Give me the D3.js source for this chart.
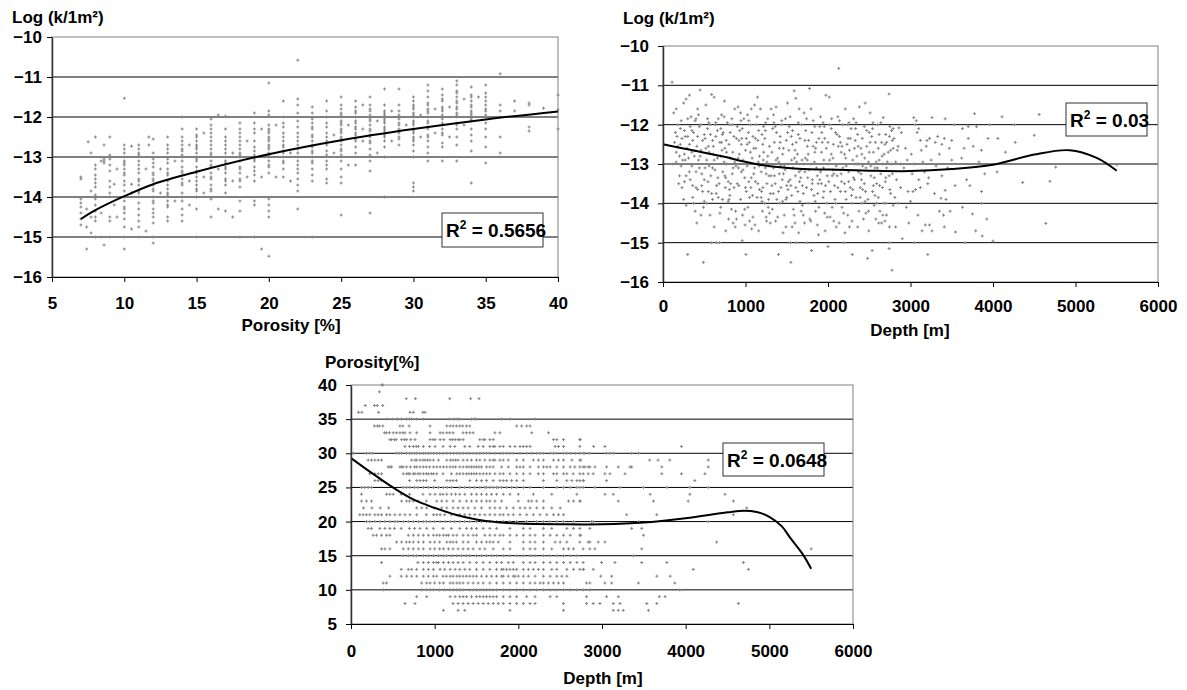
<!DOCTYPE html>
<html>
<head>
<meta charset="utf-8">
<script src="https://cdn.jsdelivr.net/npm/d3@7"></script>
<style>
  body { margin: 0; background: #fff; }
  svg { font-family: "Liberation Sans", Arial, sans-serif; font-weight: bold; }
</style>
</head>
<body>
<div id="chart"></div>
<script>
// ---- Panel 1: Log(k) against porosity, readings grouped by porosity value ----
var permPorosityCols = [
  [7, [-13.5,-13.55,-14.05,-14.15,-14.25,-14.4,-14.55,-14.7]],
  [7.4, [-14.75,-15.3,-14.3]],
  [7.5, [-12.62]],
  [7.7, [-12.9,-13.85,-14.9,-14.5]],
  [8, [-12.5,-13.2,-13.3,-13.45,-13.55,-13.65,-13.75,-13.95,-14.05,-14.2,-14.35,-14.5,-14.6,-15.0]],
  [8.4, [-15.0,-14.4,-13.1]],
  [8.6, [-12.7,-13.05,-13.1,-13.15,-15.2]],
  [9, [-12.5,-12.95,-13.05,-13.2,-13.35,-13.6,-13.75,-13.9,-14.0,-14.5,-14.6,-15.0]],
  [9.3, [-13.68,-14.2]],
  [9.5, [-14.5,-13.3]],
  [10, [-11.53,-12.7,-12.8,-12.9,-13.0,-13.1,-13.15,-13.2,-13.3,-13.4,-13.45,-13.6,-13.7,-13.85,-14.0,-14.1,-14.25,-14.3,-14.4,-14.55,-14.75,-15.0,-15.3]],
  [10.5, [-12.73,-13.68,-14.8,-13.9]],
  [11, [-12.7,-12.8,-12.9,-12.95,-13.1,-13.2,-13.3,-13.4,-13.55,-13.6,-13.7,-13.85,-13.9,-14.0,-14.15,-14.3,-14.45,-14.6,-14.75,-15.0]],
  [11.5, [-14.85,-13.3]],
  [11.7, [-12.5,-12.7]],
  [12, [-12.55,-12.9,-13.05,-13.15,-13.25,-13.4,-13.45,-13.55,-13.6,-13.7,-13.8,-13.85,-14.0,-14.1,-14.15,-14.3,-14.4,-14.5,-14.65,-15.0,-15.15]],
  [12.5, [-13.3,-13.9]],
  [13, [-12.5,-12.7,-12.8,-12.9,-13.05,-13.15,-13.3,-13.4,-13.45,-13.6,-13.7,-13.8,-13.9,-13.95,-14.1,-14.2,-14.25,-14.5,-14.6]],
  [13.5, [-13.1,-14.1]],
  [14, [-12.0,-12.3,-12.5,-12.6,-12.7,-12.8,-12.85,-12.95,-13.0,-13.1,-13.25,-13.35,-13.4,-13.55,-13.65,-13.7,-13.9,-14.0,-14.1,-14.3,-14.45,-14.6]],
  [14.5, [-12.7,-13.6,-14.2]],
  [15, [-12.3,-12.45,-12.5,-12.6,-12.7,-12.75,-12.8,-12.9,-13.0,-13.05,-13.1,-13.25,-13.35,-13.4,-13.5,-13.6,-13.7,-13.8,-13.85,-14.0,-14.3,-15.0]],
  [15.5, [-12.4,-13.5,-13.9]],
  [16, [-12.05,-12.2,-12.3,-12.4,-12.5,-12.6,-12.7,-12.8,-12.9,-12.95,-13.1,-13.2,-13.25,-13.4,-13.5,-13.55,-13.7,-13.8,-13.85,-14.05,-14.5]],
  [16.5, [-11.95,-13.3,-14.3]],
  [17, [-11.98,-12.3,-12.5,-12.6,-12.7,-12.8,-12.9,-13.0,-13.1,-13.15,-13.25,-13.3,-13.4,-13.55,-13.6,-13.7,-13.9,-14.35]],
  [17.5, [-12.9,-13.6,-14.5]],
  [18, [-12.15,-12.3,-12.4,-12.5,-12.6,-12.7,-12.8,-12.9,-12.95,-13.0,-13.1,-13.25,-13.3,-13.4,-13.55,-13.6,-13.75,-14.1,-14.35,-15.0]],
  [18.5, [-12.6,-13.5]],
  [19, [-11.9,-12.15,-12.3,-12.4,-12.6,-12.75,-12.85,-12.95,-13.05,-13.1,-13.25,-13.35,-13.45,-13.6,-14.1,-14.2,-15.0]],
  [19.5, [-12.3,-13.5,-15.3]],
  [20, [-11.15,-11.85,-11.95,-12.2,-12.3,-12.35,-12.4,-12.5,-12.55,-12.6,-12.7,-12.75,-12.8,-12.9,-12.95,-13.0,-13.1,-13.2,-13.25,-13.4,-14.05,-14.2,-14.35,-14.5,-15.48]],
  [20.5, [-12.2,-13.5]],
  [21, [-11.6,-12.0,-12.15,-12.25,-12.4,-12.5,-12.6,-12.7,-12.75,-12.85,-12.9,-13.0,-13.1,-13.15,-13.3,-13.5]],
  [21.5, [-12.9,-13.6]],
  [22, [-10.58,-11.55,-11.7,-11.9,-12.1,-12.25,-12.4,-12.5,-12.6,-12.7,-12.8,-12.9,-13.0,-13.1,-13.2,-13.3,-13.4,-13.55,-13.7,-13.85,-14.3]],
  [23, [-11.75,-11.9,-12.05,-12.15,-12.25,-12.3,-12.45,-12.5,-12.6,-12.7,-12.75,-12.85,-12.9,-13.0,-13.1,-13.15,-13.3,-13.45,-13.6,-15.0]],
  [24, [-11.6,-11.85,-12.0,-12.15,-12.25,-12.4,-12.5,-12.6,-12.7,-12.85,-12.95,-13.1,-13.2,-13.3,-13.55,-13.65]],
  [24.5, [-12.45,-12.9]],
  [25, [-11.5,-11.7,-11.8,-11.9,-11.95,-12.0,-12.1,-12.15,-12.2,-12.3,-12.35,-12.4,-12.5,-12.55,-12.6,-12.7,-12.8,-12.85,-12.95,-13.1,-13.3,-13.5,-13.65,-14.45]],
  [25.5, [-12.2,-13.2]],
  [26, [-11.6,-11.75,-11.85,-11.9,-12.0,-12.1,-12.15,-12.25,-12.3,-12.4,-12.45,-12.55,-12.6,-12.75,-12.9,-13.2]],
  [26.5, [-11.7,-12.3,-12.6]],
  [27, [-11.5,-11.7,-11.8,-11.85,-11.95,-12.05,-12.1,-12.2,-12.3,-12.35,-12.45,-12.5,-12.6,-12.65,-12.8,-12.95,-13.1,-13.35,-14.4]],
  [27.5, [-12.1,-12.9]],
  [28, [-11.3,-11.7,-11.85,-11.9,-11.95,-12.05,-12.1,-12.15,-12.25,-12.3,-12.35,-12.45,-12.5,-12.6,-12.75,-13.0,-14.0]],
  [28.5, [-11.85,-12.6]],
  [29, [-11.3,-11.7,-11.85,-11.95,-12.0,-12.05,-12.15,-12.2,-12.3,-12.35,-12.4,-12.5,-12.55,-12.7]],
  [29.5, [-12.2]],
  [30, [-11.5,-11.6,-11.7,-11.75,-11.8,-11.9,-11.95,-12.0,-12.1,-12.15,-12.2,-12.3,-12.35,-12.4,-12.5,-12.55,-12.6,-12.7,-12.85,-13.0,-13.65,-13.75,-13.85]],
  [30.5, [-11.95,-12.5]],
  [31, [-11.2,-11.35,-11.5,-11.65,-11.7,-11.8,-11.85,-11.9,-12.0,-12.1,-12.15,-12.25,-12.3,-12.45,-12.5,-12.6,-12.75,-12.9,-13.1]],
  [31.5, [-11.8,-12.4]],
  [32, [-11.3,-11.45,-11.55,-11.6,-11.75,-11.8,-11.85,-11.95,-12.0,-12.05,-12.15,-12.2,-12.3,-12.4,-12.45,-12.65,-12.75,-13.1]],
  [32.5, [-11.75,-12.5]],
  [33, [-11.1,-11.2,-11.35,-11.4,-11.5,-11.6,-11.65,-11.75,-11.8,-11.9,-11.95,-12.0,-12.15,-12.2,-12.3,-12.5,-12.7,-13.1]],
  [33.5, [-11.55,-12.2]],
  [34, [-11.25,-11.45,-11.5,-11.6,-11.7,-11.75,-11.85,-11.9,-11.95,-12.05,-12.1,-12.3,-12.45,-12.6,-12.85,-13.65]],
  [34.5, [-11.5]],
  [35, [-11.2,-11.4,-11.5,-11.6,-11.7,-11.8,-11.85,-11.95,-12.0,-12.15,-12.3,-12.5,-12.75,-13.15]],
  [36, [-10.92,-11.7,-11.85,-12.0,-12.5,-12.9]],
  [37, [-11.6,-11.85]],
  [38, [-11.65,-11.7,-12.25,-12.35]],
  [39, [-11.78]],
  [40, [-11.45,-11.82,-12.3]]
];
var permPorosityTrend = [[7,-14.55],[8,-14.33],[10,-13.98],[12,-13.68],[15,-13.37],[20,-12.93],[25,-12.58],[30,-12.3],[35,-12.06],[40,-11.86]];
var permPorosityR2 = '0.5656';

// ---- Panel 2: Log(k) against depth, [depth m, log k] ----
var permDepthPoints = [
  [110,-10.92],[130,-11.7],[150,-12.2],[160,-11.6],[180,-12.55],[200,-12.8],[140,-12.45],[120,-13.0],[190,-13.5],[230,-13.6],[250,-11.45],[260,-12.75],[270,-12.3],[280,-11.35],[300,-11.85],[290,-12.6],[240,-12.9],[220,-13.05],[300,-15.3],[210,-12.1],[160,-12.95],[280,-13.3],[260,-13.45],[170,-12.3],
  [320,-11.25],[340,-11.8],[360,-12.4],[380,-12.8],[400,-13.2],[420,-11.6],[440,-12.05],[460,-12.65],[480,-13.7],[500,-12.25],[330,-13.4],[350,-12.7],[370,-14.0],[390,-11.9],[410,-14.5],[430,-12.9],[450,-11.12],[470,-13.55],[490,-15.5],[320,-12.5],[360,-13.85],[400,-11.85],[440,-13.1],[480,-12.4],[350,-12.15],[420,-13.65],[460,-14.3],[500,-13.95],
  [520,-11.5],[540,-12.1],[560,-12.7],[580,-13.3],[600,-13.9],[620,-11.3],[640,-12.3],[660,-12.85],[680,-13.5],[700,-14.1],[530,-12.9],[550,-13.7],[570,-14.3],[590,-15.0],[610,-12.55],[630,-13.15],[650,-15.0],[670,-11.85],[690,-12.45],[510,-13.1],[555,-11.95],[600,-12.4],[645,-13.75],[685,-15.0],[530,-14.0],[575,-12.25],[620,-14.6],[665,-13.35],[700,-12.1],[545,-13.45],[590,-11.23],[635,-12.0],
  [710,-11.75],[730,-12.2],[750,-12.6],[770,-13.0],[790,-13.45],[810,-13.8],[830,-14.15],[850,-14.5],[870,-11.6],[890,-12.35],[720,-13.9],[740,-12.95],[760,-14.7],[780,-11.95],[800,-12.5],[820,-12.85],[840,-13.25],[860,-13.6],[880,-14.2],[900,-12.05],[725,-13.2],[765,-12.4],[805,-13.65],[845,-12.7],[885,-13.05],[715,-12.65],[755,-13.6],[795,-14.4],[835,-11.85],[875,-14.6],[745,-11.4],[815,-12.2],
  [910,-11.55],[930,-12.15],[950,-12.5],[970,-12.9],[990,-13.35],[1010,-13.7],[1030,-14.1],[1050,-14.45],[1070,-11.6],[1090,-12.3],[920,-13.55],[940,-13.9],[960,-14.95],[980,-11.85],[1000,-12.65],[1020,-13.05],[1040,-13.45],[1060,-12.0],[1080,-12.85],[1100,-13.25],[925,-12.75],[965,-14.3],[1005,-15.3],[1045,-12.45],[1085,-13.8],[915,-13.1],[955,-12.35],[995,-14.55],[1035,-12.2],[1075,-14.65],[945,-11.9],[1025,-11.75],[1065,-13.6],
  [1110,-11.5],[1130,-12.0],[1150,-12.4],[1170,-12.8],[1190,-13.2],[1210,-13.6],[1230,-14.0],[1250,-14.35],[1270,-11.85],[1290,-12.55],[1120,-13.45],[1140,-13.85],[1160,-14.7],[1180,-11.6],[1200,-12.25],[1220,-12.7],[1240,-13.1],[1260,-13.5],[1280,-13.9],[1300,-14.5],[1125,-12.6],[1165,-13.05],[1205,-14.2],[1245,-11.95],[1285,-13.3],[1115,-14.55],[1155,-12.95],[1195,-13.7],[1235,-12.35],[1275,-14.1],[1145,-11.3],[1215,-12.9],[1255,-14.45],
  [1310,-11.6],[1330,-12.1],[1350,-12.45],[1370,-11.55],[1390,-12.85],[1410,-13.25],[1430,-13.6],[1450,-13.95],[1470,-14.3],[1490,-14.6],[1320,-12.7],[1340,-13.1],[1360,-13.5],[1380,-13.9],[1400,-15.3],[1420,-12.3],[1440,-12.0],[1460,-12.6],[1480,-13.15],[1500,-13.55],[1325,-14.15],[1365,-14.45],[1405,-12.95],[1445,-13.4],[1485,-11.85],[1335,-13.75],[1375,-12.2],[1415,-14.0],[1455,-14.75],[1495,-12.4],[1345,-11.95],[1425,-13.05],
  [1510,-11.45],[1530,-12.05],[1550,-15.5],[1570,-12.5],[1590,-11.14],[1610,-11.33],[1630,-12.75],[1650,-11.6],[1670,-13.15],[1690,-13.55],[1520,-13.0],[1540,-13.4],[1560,-13.8],[1580,-14.15],[1600,-14.5],[1620,-15.0],[1640,-12.25],[1660,-13.95],[1680,-12.0],[1700,-14.3],[1525,-12.65],[1565,-14.6],[1605,-13.3],[1645,-14.75],[1685,-12.9],[1515,-13.65],[1555,-12.3],[1595,-12.85],[1635,-13.7],[1675,-14.2],[1545,-15.0],[1615,-12.45],[1655,-13.45],[1575,-13.1],
  [1710,-11.7],[1730,-12.15],[1750,-12.55],[1775,-11.08],[1790,-13.0],[1810,-13.4],[1830,-13.8],[1850,-14.2],[1870,-14.55],[1890,-12.35],[1720,-13.2],[1740,-13.6],[1760,-14.0],[1780,-14.4],[1800,-15.2],[1820,-11.9],[1840,-12.7],[1860,-13.1],[1880,-13.5],[1900,-12.05],[1725,-12.85],[1765,-12.4],[1805,-12.2],[1845,-13.95],[1885,-14.8],[1715,-14.5],[1755,-13.35],[1795,-11.6],[1835,-12.95],[1875,-13.75],[1745,-15.0],
  [1910,-11.8],[1930,-12.45],[1950,-12.9],[1975,-11.25],[1990,-13.3],[2015,-11.3],[2030,-13.7],[2050,-14.1],[2070,-14.45],[2090,-12.2],[1920,-13.5],[1940,-13.85],[1960,-14.25],[1980,-12.6],[2000,-15.1],[2020,-12.0],[2040,-12.75],[2060,-13.15],[2080,-13.55],[2100,-14.6],[1925,-12.2],[1965,-14.7],[2005,-13.0],[2045,-11.85],[2085,-13.9],[1945,-13.1],[1985,-14.0],[2025,-14.35],[2065,-12.5],[1955,-12.05],
  [2130,-10.57],[2120,-11.8],[2140,-12.3],[2160,-12.7],[2180,-13.1],[2200,-13.5],[2220,-13.9],[2240,-14.3],[2260,-14.6],[2280,-12.1],[2300,-12.9],[2110,-13.3],[2150,-13.7],[2170,-14.1],[2190,-15.0],[2210,-11.6],[2230,-12.5],[2250,-13.2],[2270,-13.6],[2290,-14.0],[2135,-14.5],[2175,-12.0],[2215,-12.85],[2255,-11.95],[2295,-15.3],[2125,-12.55],[2165,-13.45],[2205,-14.75],[2245,-12.35],[2285,-13.8],
  [2310,-11.85],[2330,-12.4],[2350,-12.8],[2370,-13.2],[2390,-13.6],[2410,-14.0],[2430,-14.4],[2450,-11.45],[2470,-12.15],[2490,-12.95],[2320,-13.4],[2340,-13.85],[2360,-14.6],[2380,-11.55],[2400,-12.6],[2420,-13.05],[2440,-13.5],[2460,-14.25],[2480,-15.4],[2500,-12.2],[2335,-12.1],[2375,-14.2],[2415,-12.35],[2455,-13.7],[2495,-14.7],[2325,-13.0],[2365,-12.55],[2405,-13.4],[2445,-12.85],[2485,-13.9],
  [2510,-11.7],[2530,-12.3],[2550,-12.7],[2570,-13.1],[2590,-13.5],[2610,-13.85],[2630,-14.2],[2650,-14.5],[2670,-11.82],[2690,-12.5],[2520,-13.3],[2540,-13.7],[2560,-14.05],[2580,-14.4],[2600,-12.0],[2620,-12.9],[2640,-13.25],[2660,-13.6],[2680,-14.0],[2700,-12.25],[2535,-15.2],[2575,-12.45],[2615,-14.5],[2655,-12.8],[2695,-13.45],[2545,-11.95],[2585,-12.95],[2625,-13.55],[2665,-14.3],
  [2740,-11.22],[2750,-12.05],[2770,-12.15],[2790,-12.1],[2860,-12.08],[2890,-12.2],[2745,-12.3],[2780,-12.4],[2800,-12.35],[2850,-12.55],[2710,-12.45],[2730,-12.7],[2760,-12.65],[2790,-12.6],[2840,-12.65],[2720,-12.95],[2770,-13.0],[2820,-12.95],[2880,-13.0],[2710,-13.1],[2740,-13.3],[2780,-13.25],[2830,-13.4],[2750,-13.65],[2760,-13.75],[2810,-13.85],[2850,-14.0],[2790,-14.05],[2700,-14.0],[2710,-14.3],[2745,-14.6],[2820,-14.6],[2740,-15.0],[2740,-15.15],[2775,-15.7],[2900,-14.9],[2880,-13.6],
  [2980,-14.5],[3040,-11.82],[3070,-11.9],[3060,-12.0],[3100,-12.1],[3080,-12.2],[3120,-12.4],[3200,-12.4],[3130,-12.65],[3190,-12.55],[2940,-12.6],[3010,-12.75],[2960,-12.9],[3050,-13.0],[3150,-12.95],[2920,-13.1],[3020,-13.25],[3100,-13.4],[3120,-13.6],[3210,-13.5],[2970,-13.7],[3030,-13.7],[3060,-13.65],[3000,-13.95],[2950,-14.1],[3140,-14.7],[3180,-14.55],[3050,-15.0],[3210,-15.3],[3170,-13.2],[3090,-14.3],
  [3260,-11.82],[3420,-11.85],[3230,-12.35],[3300,-12.45],[3330,-12.3],[3380,-12.5],[3410,-12.35],[3470,-12.6],[3500,-12.4],[3530,-12.0],[3350,-12.75],[3250,-12.9],[3450,-13.1],[3310,-13.05],[3380,-13.3],[3220,-13.35],[3540,-13.55],[3420,-13.67],[3370,-13.87],[3430,-13.9],[3350,-14.2],[3480,-14.2],[3400,-14.3],[3260,-14.7],[3230,-14.55],[3410,-14.6],[3545,-14.73],[3290,-13.75],[3500,-12.9],
  [3775,-11.72],[3630,-12.1],[3700,-12.05],[3800,-12.05],[3700,-12.35],[3940,-12.35],[3650,-12.6],[3860,-12.65],[3620,-12.85],[3760,-12.55],[3960,-12.0],[3830,-12.95],[3860,-13.7],[3860,-14.0],[3630,-14.1],[3750,-14.27],[3790,-14.7],[3870,-14.83],[3925,-14.4],[3660,-15.0],[4000,-14.96],[3680,-13.4],[3900,-13.25],[3720,-13.55],
  [4060,-12.35],[4110,-11.8],[4260,-12.0],[4270,-12.45],[4360,-13.47],[4500,-12.27],[4560,-11.74],[4640,-14.51],[4690,-13.44],[4760,-13.08],[4150,-12.7],[4050,-13.2],[5500,-13.02],
  // dense core of the cloud
  [180,-12.0],[230,-12.35],[270,-12.9],[320,-13.2],[370,-12.2],[410,-12.55],[460,-12.0],[510,-12.35],[560,-13.05],[610,-12.75],[660,-12.15],[710,-12.45],[760,-13.35],[810,-12.0],[860,-12.3],[910,-12.85],[960,-12.1],[1010,-12.35],[1060,-12.7],[1110,-13.1],[1160,-12.15],[1210,-12.5],[1260,-12.95],[1310,-13.3],[1360,-12.05],[1410,-12.6],[1460,-13.25],[1510,-12.2],[1560,-12.9],[1610,-13.6],[1660,-12.35],[1710,-13.0],[1760,-12.75],[1810,-13.5],[1860,-12.45],[1910,-13.2],[1960,-12.35],[2010,-13.45],[2060,-12.85],[2110,-12.25],[2160,-13.25],[2210,-13.7],[2260,-12.65],[2310,-13.35],[2360,-12.25],[2410,-12.75],[2460,-13.1],[2510,-12.45],[2560,-13.35],[2610,-12.6],[2660,-13.0],
  [200,-13.3],[250,-13.9],[300,-12.3],[350,-13.05],[400,-13.6],[450,-12.8],[500,-13.4],[550,-12.55],[600,-13.1],[650,-13.55],[700,-12.8],[750,-13.3],[800,-13.9],[850,-13.1],[900,-13.5],[950,-13.2],[1000,-13.6],[1050,-13.85],[1100,-12.6],[1150,-13.5],[1200,-13.95],[1250,-13.25],[1300,-13.75],[1350,-13.3],[1400,-13.7],[1450,-12.75],[1500,-13.85],[1550,-13.55],[1600,-12.65],[1650,-13.2],[1700,-13.75],[1750,-12.9],[1800,-13.65],[1850,-12.6],[1900,-13.4],[1950,-13.7],[2000,-12.45],[2050,-13.3],[2100,-13.05],[2150,-12.45],[2200,-12.75],[2250,-13.45],[2300,-13.65],[2350,-13.0],[2400,-13.25],[2450,-13.95],[2500,-12.7],[2550,-13.55],[2600,-13.1],[2650,-12.45],[2700,-13.35],
  [160,-12.7],[210,-12.5],[260,-12.15],[310,-12.85],[360,-13.55],[420,-12.3],[470,-13.25],[520,-12.6],[570,-12.0],[620,-12.9],[670,-13.85],[720,-12.25],[770,-12.7],[820,-13.5],[870,-12.95],[920,-12.4],[970,-13.15],[1020,-12.5],[1070,-13.35],[1120,-12.35],[1170,-13.65],[1220,-12.05],[1270,-12.8],[1320,-13.55],[1370,-12.9],[1420,-12.45],[1470,-13.05],[1520,-13.45],[1570,-12.15],[1620,-12.95],[1670,-13.35],[1720,-12.4],[1770,-13.15],[1820,-12.55],[1870,-13.3],[1920,-12.7],[1970,-13.55],[2020,-12.9],[2070,-13.25],[2120,-13.6],[2170,-12.55],[2220,-13.05],[2270,-12.35],[2320,-12.6],[2370,-13.0],[2420,-13.65],[2470,-12.55],[2520,-13.05],[2570,-13.8],[2620,-12.25],[2680,-12.75],
  [220,-11.9],[330,-12.05],[430,-11.75],[540,-11.85],[640,-11.95],[740,-11.8],[840,-12.0],[940,-11.7],[1040,-11.9],[1140,-11.8],[1240,-12.15],[1340,-11.75],[1440,-11.9],[1540,-11.8],[1640,-11.95],[1740,-11.85],[1840,-12.05],[1940,-11.95],[2040,-12.1],[2140,-11.9],[2240,-12.0],[2340,-11.95],[2440,-12.05],[2540,-12.1],[2640,-11.95],
  [280,-14.05],[390,-14.2],[490,-14.1],[590,-13.75],[690,-14.25],[790,-13.95],[890,-14.4],[990,-14.15],[1090,-14.35],[1190,-13.85],[1290,-14.25],[1390,-14.35],[1490,-13.9],[1590,-14.3],[1690,-14.05],[1790,-14.45],[1890,-14.1],[1990,-14.35],[2090,-14.0],[2190,-14.25],[2290,-14.45],[2390,-13.85],[2490,-14.2],[2590,-14.0],[2690,-14.45]
];
var permDepthTrend = [[0,-12.5],[330,-12.64],[730,-12.81],[1010,-12.95],[1300,-13.06],[1700,-13.13],[2000,-13.14],[2500,-13.17],[3000,-13.18],[3500,-13.13],[4000,-13.02],[4500,-12.76],[4930,-12.65],[5250,-12.84],[5500,-13.17]];
var permDepthR2 = '0.03';

// ---- Panel 3: porosity against depth, depths grouped by porosity value ----
var porosityDepthRows = [
  [40, [370,380]],
  [39, [340]],
  [38, [660,770,1180,1430,1530]],
  [37, [170,280,315,380]],
  [36, [90,130,330,705,745,860,885]],
  [35, [430,500,555,605,665,700,725,785,865,1175,1230,1270,1300,1440,1470,1495,1800,1900,2200]],
  [34, [280,315,340,380,585,620,695,945,1145,1185,1220,1260,1300,1335,1380,1420,1980,2040,2100,2140]],
  [33, [400,425,460,505,545,585,620,645,705,785,945,1065,1100,1145,1180,1220,1340,1380,1420,1460,1720,1780,2160,2360]],
  [32, [465,485,520,540,605,640,665,715,765,945,980,1005,1065,1110,1185,1215,1245,1280,1300,1340,1540,1580,1600,1660,1700,2420,2460,2540,2735,2740]],
  [31, [645,700,745,780,805,865,940,1005,1100,1185,1240,1360,1420,1520,1580,1660,1700,1720,1780,1820,1900,1960,2020,2060,2100,2140,2440,2480,2540,2735,2900,3035,3950]],
  [30, [30,185,225,260,545,575,605,665,700,725,760,785,820,865,895,925,955,985,1025,1060,1105,1145,1185,1225,1265,1300,1340,1385,1420,1460,1500,1540,1580,1620,1660,1720,1780,1820,1860,1900,1940,2020,2100,2160,2220,2260,2300,2380,2420,2460,2540,2580,2620,2680,2735,2795,2855,2775,3055,3095,3135,3355,3435]],
  [29, [205,245,285,325,365,725,765,785,825,860,885,915,945,985,1045,1145,1190,1220,1250,1280,1340,1390,1440,1500,1540,1600,1660,1700,1720,1780,1820,1880,1980,2060,2180,2240,2300,2420,2480,2540,2640,2735,2745,3570,3670,3810,4270]],
  [28, [445,465,485,585,605,625,665,710,760,785,825,865,900,940,985,1025,1065,1105,1145,1185,1220,1250,1300,1340,1380,1410,1440,1470,1500,1530,1560,1620,1660,1700,1800,1880,1980,2020,2060,2140,2240,2300,2340,2380,2460,2540,2620,2675,2735,2795,2855,2775,2835,2915,3055,3195,3335,3355,3715,4270]],
  [27, [225,285,325,365,625,665,685,705,745,765,800,825,865,900,925,960,985,1025,1100,1200,1265,1300,1340,1380,1410,1440,1470,1500,1540,1580,1620,1660,1720,1780,1820,1900,1980,2060,2140,2240,2300,2420,2460,2540,2580,2655,2775,2735,2835,2895,3035,3095,3275,3715,3950,4230]],
  [26, [285,325,365,700,785,825,865,900,1000,1145,1185,1220,1260,1420,1500,1560,1620,1700,1780,1820,1860,1920,1980,2060,2300,2460,2580,2640,2700,2775,2735,2780,3055,4110]],
  [25, [125,165,205,245,625,665,705,760,800,865,925,985,1045,1105,1150,1200,1300,1360,1420,1480,1540,1600,1620,1660,1700,1740,1760,1800,1860,1920,1980,2060,2140,2300,2460,2540,2620,2700,2775,2735,2915,3215,3495,3775,4050,4270]],
  [24, [125,425,465,505,600,700,860,945,1005,1065,1100,1145,1200,1250,1300,1360,1440,1500,1560,1620,1680,1740,1820,1900,2000,2180,2400,2700,3035,3135,3575,4050,4470]],
  [23, [125,185,245,605,665,700,745,800,900,1025,1085,1145,1220,1300,1380,1440,1500,1560,1620,1660,1720,1800,2000,2120,2160,2220,2300,2600,2660,2735,2740,3195,3615,4030,4570]],
  [22, [150,250,350,450,785,845,905,1000,1085,1145,1220,1280,1340,1400,1480,1560,1660,1720,1780,1860,1940,2020,2080,2140,2220,2300,2400,2500,4730]],
  [21, [105,145,185,225,285,325,365,425,465,525,585,645,705,785,900,985,1025,1065,1120,1200,1300,1360,1420,1480,1540,1600,1660,1720,1780,1820,1880,1940,2020,2100,2180,2260,2340,2420,2480,2540,3295,3655,4570]],
  [20, [185,225,285,345,405,465,525,560,625,685,745,805,865,900,945,1000,1065,1125,1185,1240,1300,1360,1420,1500,1560,1620,1660,1740,1820,1900,1980,2100,2220,2300,2380,2460,2540,2660,2875,2895,3435,4270]],
  [19, [205,245,345,405,465,520,600,700,760,825,905,985,1100,1200,1300,1380,1440,1500,1580,1660,1740,1900,2060,2140,2300,2400,2580,2660,2735,2855,3355,3475]],
  [18, [265,305,365,425,465,685,745,805,865,925,985,1025,1060,1105,1140,1165,1220,1265,1340,1400,1460,1500,1600,1660,1720,1780,1820,1900,1980,2060,2140,2200,2300,2380,2460,2540,2620,2735,3495,2745]],
  [17, [545,605,660,700,745,805,865,945,1000,1060,1145,1185,1220,1260,1340,1400,1500,1560,1620,1660,1700,1760,1900,2060,2140,2200,2300,2440,2500,2580,2735,2855,2835,2955,3035,4370]],
  [16, [365,405,465,625,685,745,805,865,945,1000,1060,1105,1165,1220,1280,1340,1400,1460,1540,1600,1700,1820,1900,2060,2140,2200,2300,2400,2540,2600,2660,2775,2855,2915,3475,5500]],
  [15, [625,685,745,785,865,925,985,1045,1105,1145,1205,1265,1320,1380,1420,1500,1560,1620,1680,1740,1820,1900,1980,2060,2140,2200,2300,2380,2460,2540,2620,2700,3375]],
  [14, [365,800,865,925,985,1025,1045,1105,1165,1220,1280,1340,1420,1500,1580,1660,1740,1800,1880,1940,2060,2140,2200,2300,2380,2460,2540,2620,2700,2775,2995,3155,3475,3775,4690]],
  [13, [600,685,725,785,865,925,985,1065,1120,1185,1245,1300,1360,1420,1500,1580,1660,1740,1800,1820,1860,1900,1940,1980,2060,2120,2180,2240,2300,2400,2460,2580,2660,2775,2735,2780,2895,4090,4750]],
  [12, [465,600,665,725,785,865,925,985,1025,1100,1140,1185,1220,1265,1300,1340,1380,1420,1460,1500,1560,1620,1680,1740,1800,1820,1880,1940,1960,2000,2060,2120,2200,2300,2380,2460,2520,2580,2985,3115,3655,3815]],
  [11, [385,425,845,905,945,1000,1060,1105,1185,1220,1265,1300,1340,1400,1460,1520,1580,1660,1740,1820,1900,1980,2060,2140,2200,2260,2300,2360,2420,2480,2540,3115,2815,2855,3035,3435,3870]],
  [10, [385,845,905,945,985,1060,1120,1185,1220,1265,1300,1340,1420,1460,1500,1540,1580,1620,1660,1700,1740,1820,1900,1980,2060,2140,2220,2300,2380,2460,2540,2620,2700,2775,2855,3930]],
  [9, [785,905,1185,1245,1300,1340,1380,1440,1500,1540,1580,1620,1660,1700,1740,1820,1900,1980,2100,2200,2380,2460,2815,3055,3195,3685,3755]],
  [8, [645,765,1220,1280,1340,1400,1460,1520,1580,1640,1700,1760,1820,1900,1980,2060,2140,2200,2540,2815,2895,2975,3135,3215,3535,3655,4630]],
  [7, [1105,1280,1360,1900,2540,3135,3195,3255,3555]]
];
var porosityDepthTrend = [[0,29.3],[250,27.1],[500,25.0],[750,23.2],[1000,22.0],[1250,21.0],[1500,20.3],[1750,19.9],[2000,19.7],[2500,19.6],[3000,19.6],[3500,19.85],[4000,20.5],[4500,21.35],[4700,21.6],[4850,21.4],[5000,20.7],[5150,19.3],[5250,17.6],[5400,15.2],[5500,13.1]];
var porosityDepthR2 = '0.0648';

// tick values
var porosityTicks = [5, 10, 15, 20, 25, 30, 35, 40];
var depthTicks = [0, 1000, 2000, 3000, 4000, 5000, 6000];
var permTicks = [-16, -15, -14, -13, -12, -11, -10];

// flatten grouped data into [x, y] pairs
var permPorosityPoints = [];
permPorosityCols.forEach(function(c) {
    c[1].forEach(function(v) { permPorosityPoints.push([c[0], v]); });
});
var porosityDepthPoints = [];
porosityDepthRows.forEach(function(r) {
    r[1].forEach(function(d) { porosityDepthPoints.push([d, r[0]]); });
});

var fontSize = 17;

var svg = d3.select('#chart')
    .append('svg')
    .attr('width', 1187)
    .attr('height', 690);

function drawPanel(p) {
    var x = d3.scaleLinear().domain([p.xTicks[0], p.xTicks[p.xTicks.length - 1]]).range([p.left, p.right]);
    var y = d3.scaleLinear().domain([p.yTicks[0], p.yTicks[p.yTicks.length - 1]]).range([p.bottom, p.top]);
    var g = svg.append('g');

    // horizontal gridlines
    g.selectAll('line.grid')
        .data(p.yTicks.slice(1, -1))
        .enter()
        .append('line')
        .attr('x1', p.left)
        .attr('x2', p.right)
        .attr('y1', d => y(d))
        .attr('y2', d => y(d))
        .attr('stroke', '#000')
        .attr('stroke-width', 1);

    // plot area border
    g.append('rect')
        .attr('x', p.left)
        .attr('y', p.top)
        .attr('width', p.right - p.left)
        .attr('height', p.bottom - p.top)
        .attr('fill', 'none')
        .attr('stroke', '#808080');

    // scatter points (small plus marks)
    g.append('g').selectAll('path')
        .data(p.points)
        .enter()
        .append('path')
        .attr('d', 'M-1.5,0H1.5M0,-1.5V1.5')
        .attr('transform', d => `translate(${x(d[0])},${y(d[1])})`)
        .attr('stroke', '#858585')
        .attr('stroke-width', 1);

    // trend line
    var line = d3.line()
        .x(d => x(d[0]))
        .y(d => y(d[1]))
        .curve(d3.curveCatmullRom);
    g.append('path')
        .datum(p.trend)
        .attr('d', line)
        .attr('fill', 'none')
        .attr('stroke', '#000')
        .attr('stroke-width', 2);

    // axes
    var xAxis = g.append('g')
        .attr('transform', `translate(0, ${p.bottom})`)
        .call(d3.axisBottom(x).tickValues(p.xTicks).tickSize(5).tickSizeOuter(0).tickPadding(p.xPad).tickFormat(d3.format('d')));
    var yAxis = g.append('g')
        .attr('transform', `translate(${p.left}, 0)`)
        .call(d3.axisLeft(y).tickValues(p.yTicks).tickSize(5).tickSizeOuter(0).tickPadding(p.yPad).tickFormat(d3.format('d')));
    [xAxis, yAxis].forEach(function(a) {
        a.selectAll('text')
            .attr('font-size', fontSize)
            .attr('font-weight', 'bold')
            .attr('font-family', '"Liberation Sans", Arial, sans-serif')
            .attr('fill', '#000');
        a.selectAll('line').attr('stroke', '#000');
    });
    xAxis.select('.domain').attr('stroke', '#000');
    yAxis.select('.domain').attr('stroke', '#333').attr('stroke-width', 1.5);

    // axis titles
    g.append('text')
        .attr('x', p.yTitle[1])
        .attr('y', p.yTitle[2])
        .attr('font-size', fontSize)
        .text(p.yTitle[0]);
    g.append('text')
        .attr('x', p.xTitle[1])
        .attr('y', p.xTitle[2])
        .attr('text-anchor', 'middle')
        .attr('font-size', fontSize)
        .text(p.xTitle[0]);

    // R squared label
    var box = p.r2box;
    g.append('rect')
        .attr('x', box[0])
        .attr('y', box[1])
        .attr('width', box[2])
        .attr('height', box[3])
        .attr('fill', '#fff')
        .attr('stroke', '#333')
        .attr('stroke-width', 1);
    var t = g.append('text')
        .attr('x', box[0] + 4)
        .attr('y', box[1] + 24)
        .attr('font-size', 19);
    t.append('tspan').text('R');
    t.append('tspan').attr('font-size', 12).attr('dy', -8).text('2');
    t.append('tspan').attr('dy', 8).text(' = ' + p.r2);
}

drawPanel({
    left: 52, right: 558, top: 37, bottom: 277,
    xTicks: porosityTicks, yTicks: permTicks,
    xPad: 15, yPad: 5,
    points: permPorosityPoints, trend: permPorosityTrend, r2: permPorosityR2,
    yTitle: ['Log (k/1m²)', 12, 23],
    xTitle: ['Porosity [%]', 291, 331],
    r2box: [442, 213, 101, 34]
});

drawPanel({
    left: 663, right: 1158, top: 46, bottom: 282,
    xTicks: depthTicks, yTicks: permTicks,
    xPad: 13, yPad: 9,
    points: permDepthPoints, trend: permDepthTrend, r2: permDepthR2,
    yTitle: ['Log (k/1m²)', 623, 24],
    xTitle: ['Depth [m]', 910, 336],
    r2box: [1066, 103, 81, 33]
});

drawPanel({
    left: 351, right: 853, top: 385, bottom: 624,
    xTicks: depthTicks, yTicks: [5, 10, 15, 20, 25, 30, 35, 40],
    xPad: 16, yPad: 9,
    points: porosityDepthPoints, trend: porosityDepthTrend, r2: porosityDepthR2,
    yTitle: ['Porosity[%]', 325, 368],
    xTitle: ['Depth [m]', 603, 684],
    r2box: [723, 443, 101, 33]
});
</script>
</body>
</html>
